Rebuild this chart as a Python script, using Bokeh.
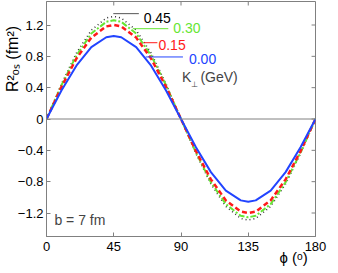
from bokeh.plotting import figure
from bokeh.models import Range1d, FixedTicker, Span, Label
from bokeh.embed import file_html
from bokeh.resources import INLINE

# ---------------- data ----------------
phi = [0, 10, 20, 30, 40, 45, 50, 60, 70, 80, 90,
       100, 110, 120, 130, 135, 140, 150, 160, 170, 180]
r_k000 = [0, 0.363, 0.681, 0.918, 1.044, 1.06, 1.044, 0.918, 0.681, 0.363, 0,
          -0.361, -0.678, -0.914, -1.039, -1.056, -1.039, -0.914, -0.678, -0.361, 0]
r_k015 = [0, 0.410, 0.771, 1.039, 1.182, 1.20, 1.182, 1.039, 0.771, 0.410, 0,
          -0.410, -0.771, -1.039, -1.182, -1.20, -1.182, -1.039, -0.771, -0.410, 0]
r_k030 = [0, 0.431, 0.810, 1.091, 1.241, 1.26, 1.241, 1.091, 0.810, 0.431, 0,
          -0.429, -0.807, -1.087, -1.236, -1.255, -1.236, -1.087, -0.807, -0.429, 0]
r_k045 = [0, 0.448, 0.842, 1.134, 1.290, 1.31, 1.290, 1.134, 0.842, 0.448, 0,
          -0.441, -0.829, -1.117, -1.270, -1.29, -1.270, -1.117, -0.829, -0.441, 0]

series_labels = ["0.45", "0.30", "0.15", "0.00"]
x_ticks = [0, 45, 90, 135, 180]
y_ticks = [-1.2, -0.8, -0.4, 0, 0.4, 0.8, 1.2]
y_tick_text = ["\u22121.2", "\u22120.8", "\u22120.4", "0", "0.4", "0.8", "1.2"]

# ---------------- styling / layout ----------------
FONT = "Liberation Sans"
GRAY = "#808080"
BLUE = "#2244ff"
RED = "#ff1a1a"
GREEN = "#66e633"
BLACK = "#333333"
NB = "\u00a0"
X0, X1, Y0, Y1 = 0, 180, -1.5, 1.5
W, H = 330, 269
BL, BR, BT, BB = 41, 15, 1, 33
FW, FH = W - BL - BR, H - BT - BB
TICK_PX = 4

p = figure(width=W, height=H, output_backend="svg", toolbar_location=None,
           x_range=Range1d(X0, X1), y_range=Range1d(Y0, Y1),
           min_border_left=BL, min_border_right=BR, min_border_top=BT,
           min_border_bottom=BB)
p.outline_line_color = GRAY
p.outline_line_width = 1
p.xgrid.visible = False
p.ygrid.visible = False
p.background_fill_color = "white"
p.border_fill_color = "white"

for ax, ticks in ((p.xaxis[0], x_ticks), (p.yaxis[0], y_ticks)):
    ax.ticker = FixedTicker(ticks=ticks, minor_ticks=[])
    ax.axis_line_color = GRAY
    ax.major_tick_line_color = GRAY
    ax.major_tick_in = TICK_PX
    ax.major_tick_out = 0
    ax.minor_tick_line_color = None
    ax.major_label_text_font = FONT
    ax.major_label_text_color = "black"
    ax.major_label_text_font_size = "13px"
    ax.axis_label_text_font = FONT
    ax.axis_label_text_font_style = "normal"
    ax.axis_label_text_color = "black"

p.xaxis.major_label_standoff = 5
p.yaxis.major_label_standoff = 3
p.yaxis.major_label_overrides = {t: s for t, s in zip(y_ticks, y_tick_text)}

# axis titles (non-breaking spaces push the visible text off-centre, as in the original)
p.xaxis.axis_label = NB * 54 + "\u03d5 (\u1d52)"
p.xaxis.axis_label_text_font_size = "15px"
p.xaxis.axis_label_standoff = -5
p.yaxis.axis_label = NB * 27 + "R\u00b2\u2092\u209b (fm\u00b2)"
p.yaxis.axis_label_text_font_size = "16px"
p.yaxis.axis_label_standoff = -6

# inner tick marks on the top and right edges of the box
dx = TICK_PX * (X1 - X0) / FW
dy = TICK_PX * (Y1 - Y0) / FH
p.segment(x0=x_ticks, y0=[Y1] * len(x_ticks), x1=x_ticks, y1=[Y1 - dy] * len(x_ticks),
          line_color=GRAY, line_width=1)
p.segment(x0=[X1] * len(y_ticks), y0=y_ticks, x1=[X1 - dx] * len(y_ticks), y1=y_ticks,
          line_color=GRAY, line_width=1)

p.add_layout(Span(location=0, dimension="width", line_color=GRAY, line_width=1))

# curves
p.line(phi, r_k045, line_color=BLACK, line_width=1.5, line_dash="1 3")
p.line(phi, r_k030, line_color=GREEN, line_width=2, line_dash="6 2 2 2")
p.line(phi, r_k015, line_color=RED, line_width=2.5, line_dash="5 3")
p.line(phi, r_k000, line_color=BLUE, line_width=2)

# leader lines + labels
lead_x0 = [44.7, 57.8, 65.0, 66.4]
lead_x1 = [61.8, 81.5, 74.2, 91.3]
lead_y = [1.345, 1.153, 0.974, 0.792]
lead_col = ["#555555", GREEN, RED, BLUE]
p.segment(x0=lead_x0, y0=lead_y, x1=lead_x1, y1=lead_y, line_color=lead_col, line_width=1)

lab_x = [65.0, 84.8, 74.9, 95.3]
lab_y = [1.29, 1.156, 0.939, 0.766]
lab_col = ["black", GREEN, RED, BLUE]
for t, x, y, c in zip(series_labels, lab_x, lab_y, lab_col):
    p.add_layout(Label(x=x, y=y, text=t, text_color=c, text_font=FONT,
                       text_font_size="14px", text_baseline="middle", text_align="left"))

p.add_layout(Label(x=90.7, y=0.536, text="K", text_font=FONT, text_font_size="14px",
                   text_baseline="middle"))
p.add_layout(Label(x=96.8, y=0.44, text="\u22a5", text_font="DejaVu Sans",
                   text_font_size="8px", text_baseline="middle"))
p.add_layout(Label(x=103.0, y=0.536, text="(GeV)", text_font=FONT, text_font_size="14px",
                   text_baseline="middle"))

p.add_layout(Label(x=5.3, y=-1.29, text="b = 7 fm", text_font=FONT, text_font_size="14px",
                   text_baseline="middle"))

open("out.html", "w").write(file_html(p, INLINE))
